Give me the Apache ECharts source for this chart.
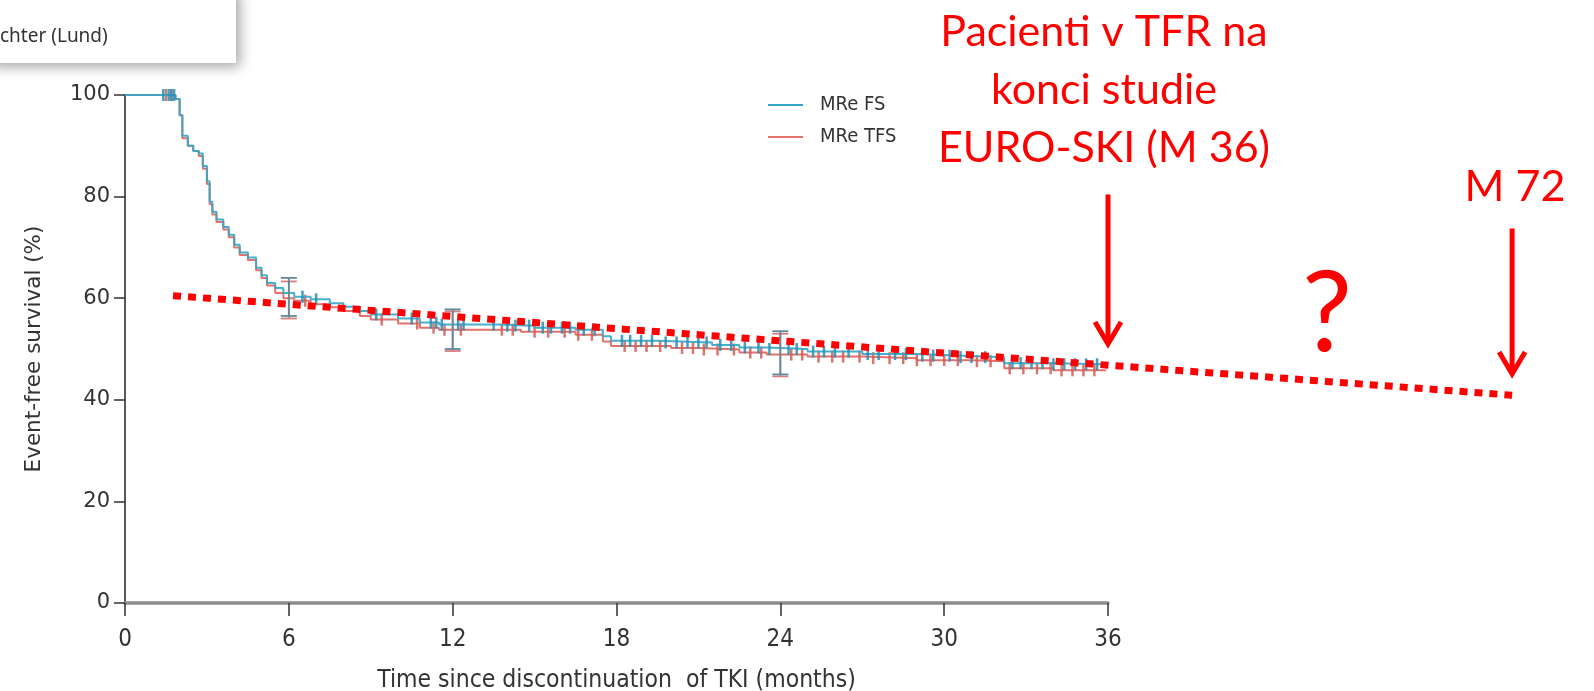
<!DOCTYPE html>
<html>
<head>
<meta charset="utf-8">
<script src="https://cdn.jsdelivr.net/npm/echarts@6/dist/echarts.min.js"></script>
<style>
html,body{margin:0;padding:0;background:#fff;}
#chart{width:1594px;height:691px;}
</style>
</head>
<body>
<div id="chart"></div>
<script>
// ---- data ----
const xTicks = [0, 6, 12, 18, 24, 30, 36];
const yTicks = [0, 20, 40, 60, 80, 100];
const seriesNames = ['MRe FS', 'MRe TFS'];

// Kaplan-Meier step points (months, %)
const fsTime = [0, 1.85, 2.0, 2.1, 2.3, 2.5, 2.7, 2.85, 3.0, 3.1, 3.2, 3.35, 3.6, 3.8, 4.0, 4.2, 4.5, 4.8, 5.0, 5.2, 5.5, 5.8, 6.2, 6.8, 7.5, 8.0, 8.6, 9.0, 10.0, 10.8, 11.5, 13.6, 15.0, 16.5, 17.5, 17.8, 19.5, 21.5, 22.5, 23.5, 25.0, 27.0, 29.0, 30.5, 32.2, 34.0, 35.9];
const fsSurv = [100, 99.2, 96, 92, 90, 89, 88.5, 86, 83, 79, 77, 75.5, 74, 72.5, 70.5, 69, 68, 66, 64.5, 63, 62, 61, 60.3, 59.8, 59, 58.3, 57.5, 56.8, 56, 55.2, 54.8, 54.6, 54.2, 53.8, 52.5, 51.6, 51.3, 50.8, 50.3, 50, 49.5, 49, 48.7, 48.4, 47.2, 47, 47];
const tfsTime = [0, 1.85, 2.0, 2.1, 2.3, 2.5, 2.7, 2.85, 3.0, 3.1, 3.2, 3.35, 3.6, 3.8, 4.0, 4.2, 4.5, 4.8, 5.0, 5.2, 5.5, 5.8, 6.2, 6.8, 7.5, 8.0, 8.6, 9.0, 10.0, 10.8, 11.5, 14.5, 16.5, 17.5, 17.8, 20.0, 21.0, 22.5, 23.5, 25.0, 27.0, 29.0, 31.0, 32.2, 34.0, 35.9];
const tfsSurv = [100, 99.2, 96, 91.5, 90, 89, 88, 85.5, 82.5, 78.5, 76.5, 75, 73.5, 72, 70, 68.5, 67.5, 65.5, 64, 62.5, 61, 60, 59.5, 58.8, 58.2, 57.5, 56.5, 55.8, 55, 54.2, 53.8, 53.4, 52.8, 51.5, 50.6, 50.2, 49.9, 49.3, 48.9, 48.5, 48.2, 47.8, 47.6, 46.2, 45.8, 45.6];

// censoring times (months)
const fsCensor = [1.4, 1.6, 1.7, 1.8, 6.5, 7.0, 9.2, 10.5, 11.2, 11.4, 11.6, 12.2, 12.4, 13.5, 14.0, 14.3, 14.8, 15.3, 15.6, 16.0, 16.3, 16.8, 17.2, 18.2, 18.5, 18.9, 19.3, 19.8, 20.2, 20.6, 21.0, 21.3, 21.8, 22.2, 22.7, 23.2, 23.6, 24.3, 24.6, 25.2, 25.6, 26.0, 26.5, 27.2, 27.6, 28.2, 28.6, 29.2, 29.6, 30.2, 30.6, 31.0, 31.5, 32.5, 32.8, 33.2, 33.6, 34.0, 34.4, 34.8, 35.2, 35.6];
const tfsCensor = [1.5, 1.7, 6.6, 9.4, 10.7, 11.3, 11.7, 12.3, 13.8, 14.2, 15.0, 15.5, 16.1, 16.6, 17.1, 18.3, 18.7, 19.1, 19.6, 20.4, 20.8, 21.2, 21.7, 22.3, 22.9, 23.3, 24.4, 24.8, 25.4, 25.9, 26.3, 26.9, 27.4, 28.0, 28.5, 29.0, 29.5, 30.0, 30.5, 31.2, 31.7, 32.4, 32.9, 33.4, 33.9, 34.3, 34.7, 35.1, 35.5];

// confidence intervals at landmark times
const ciTime = [6, 12, 24];
const fsLow = [56.5, 50.0, 45.0];
const fsHigh = [64.0, 57.8, 53.5];
const tfsLow = [56.0, 49.6, 44.6];
const tfsHigh = [63.3, 57.4, 53.0];

// annotation overlay (drawn on an extended month scale)
const trendX = [1.76, 50.8];
const trendY = [60.5, 40.9];
const arrowX = [36, 50.8];
const arrowTop = [80.4, 73.7];
const arrowBottom = [50.6, 44.7];

const annText1 = 'Pacienti v TFR na\nkonci studie\nEURO-SKI (M 36)';
const annText2 = 'M 72';
const annText3 = '?';
const insetText = 'chter (Lund)';

// ---- build ----
const colFS = '#33a6c6';
const colTFS = '#e4716b';
const condFont = 'DejaVu Sans Condensed';

function zip(a, b) { return a.map((v, i) => [v, b[i]]); }
function survAt(times, surv, t) {
  let s = surv[0];
  for (let i = 0; i < times.length; i++) { if (times[i] <= t) s = surv[i]; }
  return s;
}
const fsCensorPts = fsCensor.map(t => [t, survAt(fsTime, fsSurv, t)]);
const tfsCensorPts = tfsCensor.map(t => [t, survAt(tfsTime, tfsSurv, t)]);

function ciRender(color) {
  return function (params, api) {
    const lo = api.coord([api.value(0), api.value(1)]);
    const hi = api.coord([api.value(0), api.value(2)]);
    const c = 8;
    const st = { stroke: color, lineWidth: 1.8 };
    return {
      type: 'group',
      children: [
        { type: 'line', shape: { x1: lo[0], y1: lo[1], x2: hi[0], y2: hi[1] }, style: st },
        { type: 'line', shape: { x1: lo[0] - c, y1: lo[1], x2: lo[0] + c, y2: lo[1] }, style: st },
        { type: 'line', shape: { x1: hi[0] - c, y1: hi[1], x2: hi[0] + c, y2: hi[1] }, style: st }
      ]
    };
  };
}

const gridLeft = 125, gridTop = 95, gridW = 983, gridH = 508;
const extMax = 52;

const option = {
  animation: false,
  backgroundColor: '#ffffff',
  grid: [
    { left: gridLeft, top: gridTop, width: gridW, height: gridH, containLabel: false, outerBoundsMode: 'none' },
    { left: gridLeft, top: gridTop, width: gridW * extMax / 36, height: gridH, containLabel: false, outerBoundsMode: 'none' }
  ],
  legend: {
    data: seriesNames,
    orient: 'vertical',
    left: 763,
    top: 90,
    itemWidth: 35,
    itemHeight: 2,
    itemGap: 12,
    icon: 'rect',
    textStyle: { fontFamily: condFont, fontSize: 20, color: '#333', padding: [0, 0, 0, 12] }
  },
  xAxis: [
    {
      gridIndex: 0, type: 'value', min: 0, max: 36, interval: 6,
      name: 'Time since discontinuation  of TKI (months)',
      nameLocation: 'middle', nameGap: 65,
      nameTextStyle: { fontFamily: condFont, fontSize: 24.5, color: '#333' },
      axisLine: { show: true, lineStyle: { color: '#8c8c8c', width: 3.5 } },
      axisTick: { show: true, length: 13, lineStyle: { color: '#333', width: 1.5 } },
      axisLabel: { margin: 25, fontFamily: condFont, fontSize: 24, color: '#333' },
      splitLine: { show: false }
    },
    { gridIndex: 1, type: 'value', min: 0, max: extMax, show: false }
  ],
  yAxis: [
    {
      gridIndex: 0, type: 'value', min: 0, max: 100, interval: 20,
      name: 'Event-free survival (%)',
      nameLocation: 'middle', nameGap: 80, nameRotate: 90,
      nameTextStyle: { fontFamily: 'DejaVu Sans', fontSize: 21.5, color: '#333' },
      axisLine: { show: true, lineStyle: { color: '#222', width: 1.5 } },
      axisTick: { show: true, length: 11, lineStyle: { color: '#333', width: 1.5 } },
      axisLabel: { margin: 15, fontFamily: 'DejaVu Sans', fontSize: 21, color: '#333' },
      splitLine: { show: false }
    },
    { gridIndex: 1, type: 'value', min: 0, max: 100, show: false }
  ],
  series: [
    {
      name: 'MRe TFS', type: 'line', step: 'end', xAxisIndex: 0, yAxisIndex: 0,
      data: zip(tfsTime, tfsSurv), showSymbol: false, symbol: 'none',
      lineStyle: { color: colTFS, width: 2 }, itemStyle: { color: colTFS }, z: 3
    },
    {
      name: 'MRe FS', type: 'line', step: 'end', xAxisIndex: 0, yAxisIndex: 0,
      data: zip(fsTime, fsSurv), showSymbol: false, symbol: 'none',
      lineStyle: { color: colFS, width: 2, opacity: 0.9 }, itemStyle: { color: colFS }, z: 4
    },
    {
      type: 'scatter', xAxisIndex: 0, yAxisIndex: 0, data: tfsCensorPts,
      symbol: 'rect', symbolSize: [2.5, 12], itemStyle: { color: '#cf5f59', opacity: 0.85 }, z: 3, silent: true
    },
    {
      type: 'scatter', xAxisIndex: 0, yAxisIndex: 0, data: fsCensorPts,
      symbol: 'rect', symbolSize: [2.5, 12], itemStyle: { color: '#2a8db2', opacity: 0.85 }, z: 4, silent: true
    },
    {
      type: 'custom', xAxisIndex: 0, yAxisIndex: 0,
      data: ciTime.map((t, i) => [t, tfsLow[i], tfsHigh[i]]),
      renderItem: ciRender('#d97d7d'), z: 5, silent: true
    },
    {
      type: 'custom', xAxisIndex: 0, yAxisIndex: 0,
      data: ciTime.map((t, i) => [t, fsLow[i], fsHigh[i]]),
      renderItem: ciRender('#5f8a9e'), z: 6, silent: true
    },
    {
      type: 'line', xAxisIndex: 1, yAxisIndex: 1, data: zip(trendX, trendY),
      showSymbol: false, symbol: 'none',
      lineStyle: { color: '#ff0000', width: 7, type: [8, 7], cap: 'butt' }, z: 10, silent: true
    },
    {
      type: 'custom', xAxisIndex: 1, yAxisIndex: 1,
      data: arrowX.map((x, i) => [x, arrowTop[i], arrowBottom[i]]),
      renderItem: function (params, api) {
        const top = api.coord([api.value(0), api.value(1)]);
        const tip = api.coord([api.value(0), api.value(2)]);
        const st = { stroke: '#ff0000', lineWidth: 5, lineCap: 'butt' };
        return {
          type: 'group',
          children: [
            { type: 'line', shape: { x1: top[0], y1: top[1], x2: tip[0], y2: tip[1] - 2 }, style: st },
            { type: 'polyline', shape: { points: [[tip[0] - 13, tip[1] - 24], [tip[0], tip[1] - 2], [tip[0] + 13, tip[1] - 24]] }, style: { stroke: '#ff0000', lineWidth: 5, fill: null, lineJoin: 'miter' } }
          ]
        };
      },
      z: 10, silent: true
    }
  ],
  graphic: [
    {
      type: 'rect', left: -12, top: -12, shape: { width: 248, height: 75 },
      style: { fill: '#ffffff', shadowBlur: 12, shadowColor: 'rgba(0,0,0,0.35)', shadowOffsetX: 4, shadowOffsetY: 4 },
      z: 1
    },
    {
      type: 'text', left: 0, top: 27, z: 2,
      style: { text: insetText, fontFamily: 'Noto Sans', fontSize: 19, fill: '#333' }
    },
    {
      type: 'text', z: 20, x: 1104, y: 90,
      style: { text: annText1, fontFamily: 'Lato', fontSize: 43, lineHeight: 58, fill: '#ff0000', align: 'center', verticalAlign: 'middle' }
    },
    {
      type: 'text', z: 20, x: 1515, y: 187,
      style: { text: annText2, fontFamily: 'Lato', fontSize: 43, fill: '#ff0000', align: 'center', verticalAlign: 'middle' }
    },
    {
      type: 'text', z: 20, x: 1327, y: 315,
      style: { text: annText3, fontFamily: 'Lato', fontSize: 112, fill: '#ff0000', align: 'center', verticalAlign: 'middle' }
    }
  ]
};

const chart = echarts.init(document.getElementById('chart'), null, { renderer: 'canvas' });
chart.setOption(option);
</script>
</body>
</html>
